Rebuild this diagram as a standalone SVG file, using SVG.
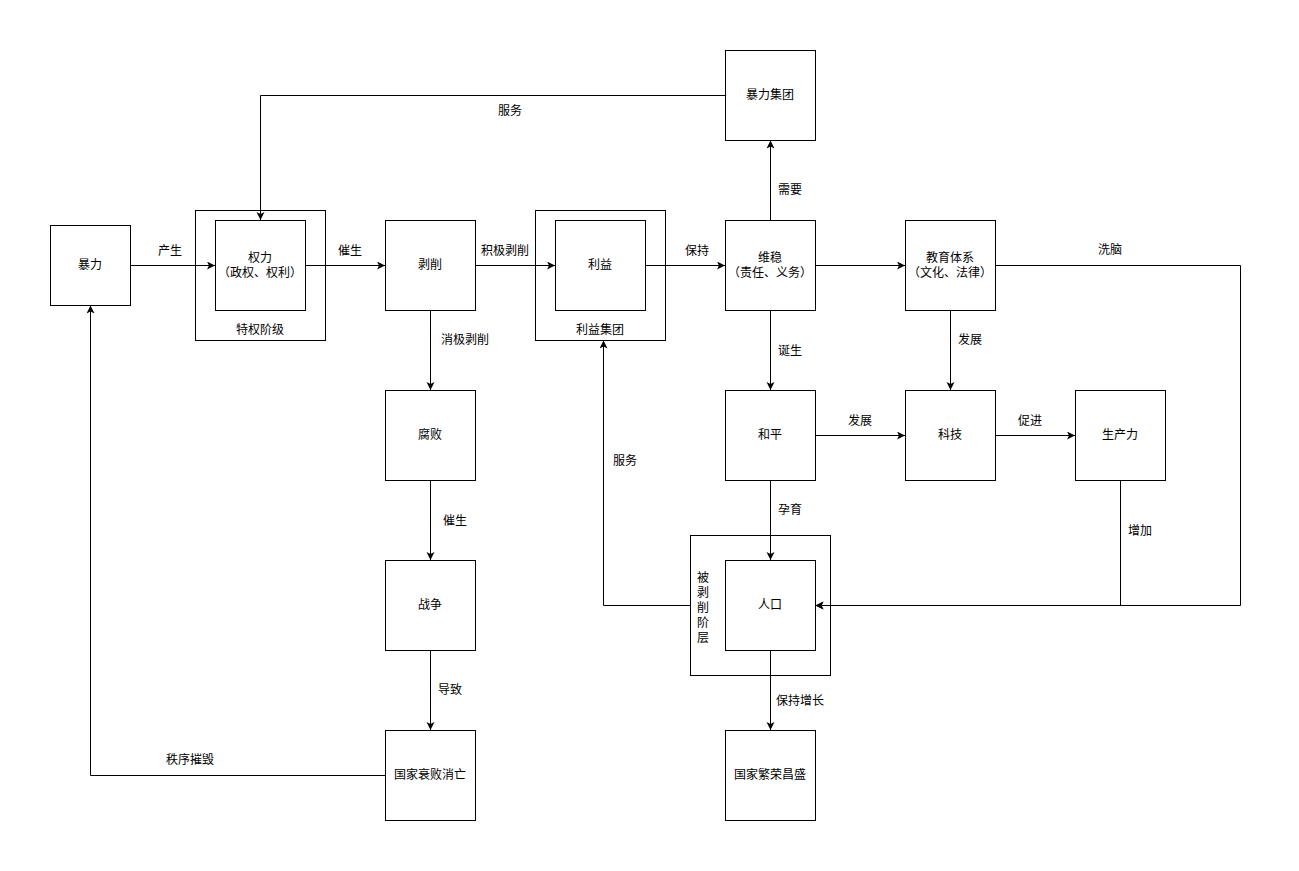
<svg xmlns="http://www.w3.org/2000/svg" width="1299" height="871" viewBox="0 0 1299 871">
<defs>
<marker id="arr" markerUnits="userSpaceOnUse" markerWidth="10" markerHeight="10" refX="8" refY="4" orient="auto">
<path d="M0,0 L8,4 L0,8 L2,4 Z" fill="#000"/>
</marker>
<style>
rect{fill:#fff;stroke:#000;stroke-width:1}
text{font-family:"Liberation Sans","Noto Sans CJK SC",sans-serif;font-size:12px;fill:#000;text-anchor:middle;dominant-baseline:central}
.c path{fill:none;stroke:#000;stroke-width:1;marker-end:url(#arr)}
</style>
</defs>
<rect x="0" y="0" width="1299" height="871" style="stroke:none"/>
<g id="n-baoli"><rect x="50.5" y="225.5" width="80" height="80"/><text x="90" y="265">暴力</text></g>
<g id="n-tequan"><rect x="195.5" y="210.5" width="130" height="130"/><text x="260" y="330">特权阶级</text></g>
<g id="n-quanli"><rect x="215.5" y="220.5" width="90" height="90"/><text x="260" y="258">权力</text><text x="260" y="273">（政权、权利）</text></g>
<g id="n-boxue"><rect x="385.5" y="220.5" width="90" height="90"/><text x="430" y="265">剥削</text></g>
<g id="n-liyijituan"><rect x="535.5" y="210.5" width="130" height="130"/><text x="600" y="330">利益集团</text></g>
<g id="n-liyi"><rect x="555.5" y="220.5" width="90" height="90"/><text x="600" y="265">利益</text></g>
<g id="n-weiwen"><rect x="725.5" y="220.5" width="90" height="90"/><text x="770" y="258">维稳</text><text x="770" y="273">（责任、义务）</text></g>
<g id="n-jiaoyu"><rect x="905.5" y="220.5" width="90" height="90"/><text x="950" y="258">教育体系</text><text x="950" y="273">（文化、法律）</text></g>
<g id="n-baolijituan"><rect x="725.5" y="50.5" width="90" height="90"/><text x="770" y="95">暴力集团</text></g>
<g id="n-fubai"><rect x="385.5" y="390.5" width="90" height="90"/><text x="430" y="435">腐败</text></g>
<g id="n-zhanzheng"><rect x="385.5" y="560.5" width="90" height="90"/><text x="430" y="605">战争</text></g>
<g id="n-shuaibai"><rect x="385.5" y="730.5" width="90" height="90"/><text x="430" y="775">国家衰败消亡</text></g>
<g id="n-heping"><rect x="725.5" y="390.5" width="90" height="90"/><text x="770" y="435">和平</text></g>
<g id="n-keji"><rect x="905.5" y="390.5" width="90" height="90"/><text x="950" y="435">科技</text></g>
<g id="n-shengchanli"><rect x="1075.5" y="390.5" width="90" height="90"/><text x="1120" y="435">生产力</text></g>
<g id="n-beiboxue"><rect x="690.5" y="535.5" width="140" height="140"/>
<text x="703" y="578">被</text><text x="703" y="593">剥</text><text x="703" y="608">削</text><text x="703" y="623">阶</text><text x="703" y="638">层</text></g>
<g id="n-renkou"><rect x="725.5" y="560.5" width="90" height="90"/><text x="770" y="605">人口</text></g>
<g id="n-fanrong"><rect x="725.5" y="730.5" width="90" height="90"/><text x="770" y="775">国家繁荣昌盛</text></g>
<g class="c" id="connectors">
<path d="M130.5,265.5 H215"/>
<path d="M305.5,265.5 H385"/>
<path d="M475.5,265.5 H555"/>
<path d="M645.5,265.5 H725"/>
<path d="M815.5,265.5 H905"/>
<path d="M770.5,220 V140.5"/>
<path d="M725,95.5 H260.5 V220"/>
<path d="M430.5,310.5 V390"/>
<path d="M430.5,480.5 V560"/>
<path d="M430.5,650.5 V730"/>
<path d="M385,775.5 H90.5 V305.5"/>
<path d="M770.5,310.5 V390"/>
<path d="M950.5,310.5 V390"/>
<path d="M815.5,435.5 H905"/>
<path d="M995.5,435.5 H1075"/>
<path d="M770.5,480.5 V560"/>
<path d="M1120.5,480.5 V605.5 H815.5"/>
<path d="M995.5,265.5 H1240.5 V605.5 H815.5"/>
<path d="M690,605.5 H603.5 V340.5"/>
<path d="M770.5,650.5 V730"/>
</g>
<g id="labels">
<text x="170" y="251">产生</text>
<text x="350" y="251">催生</text>
<text x="505" y="251">积极剥削</text>
<text x="697" y="251">保持</text>
<text x="790" y="190">需要</text>
<text x="510" y="111">服务</text>
<text x="465" y="340">消极剥削</text>
<text x="455" y="521">催生</text>
<text x="450" y="690">导致</text>
<text x="190" y="760">秩序摧毁</text>
<text x="790" y="351">诞生</text>
<text x="970" y="340">发展</text>
<text x="860" y="421">发展</text>
<text x="1030" y="421">促进</text>
<text x="790" y="510">孕育</text>
<text x="1140" y="531">增加</text>
<text x="1110" y="250">洗脑</text>
<text x="625" y="461">服务</text>
<text x="800" y="701">保持增长</text>
</g>
</svg>
